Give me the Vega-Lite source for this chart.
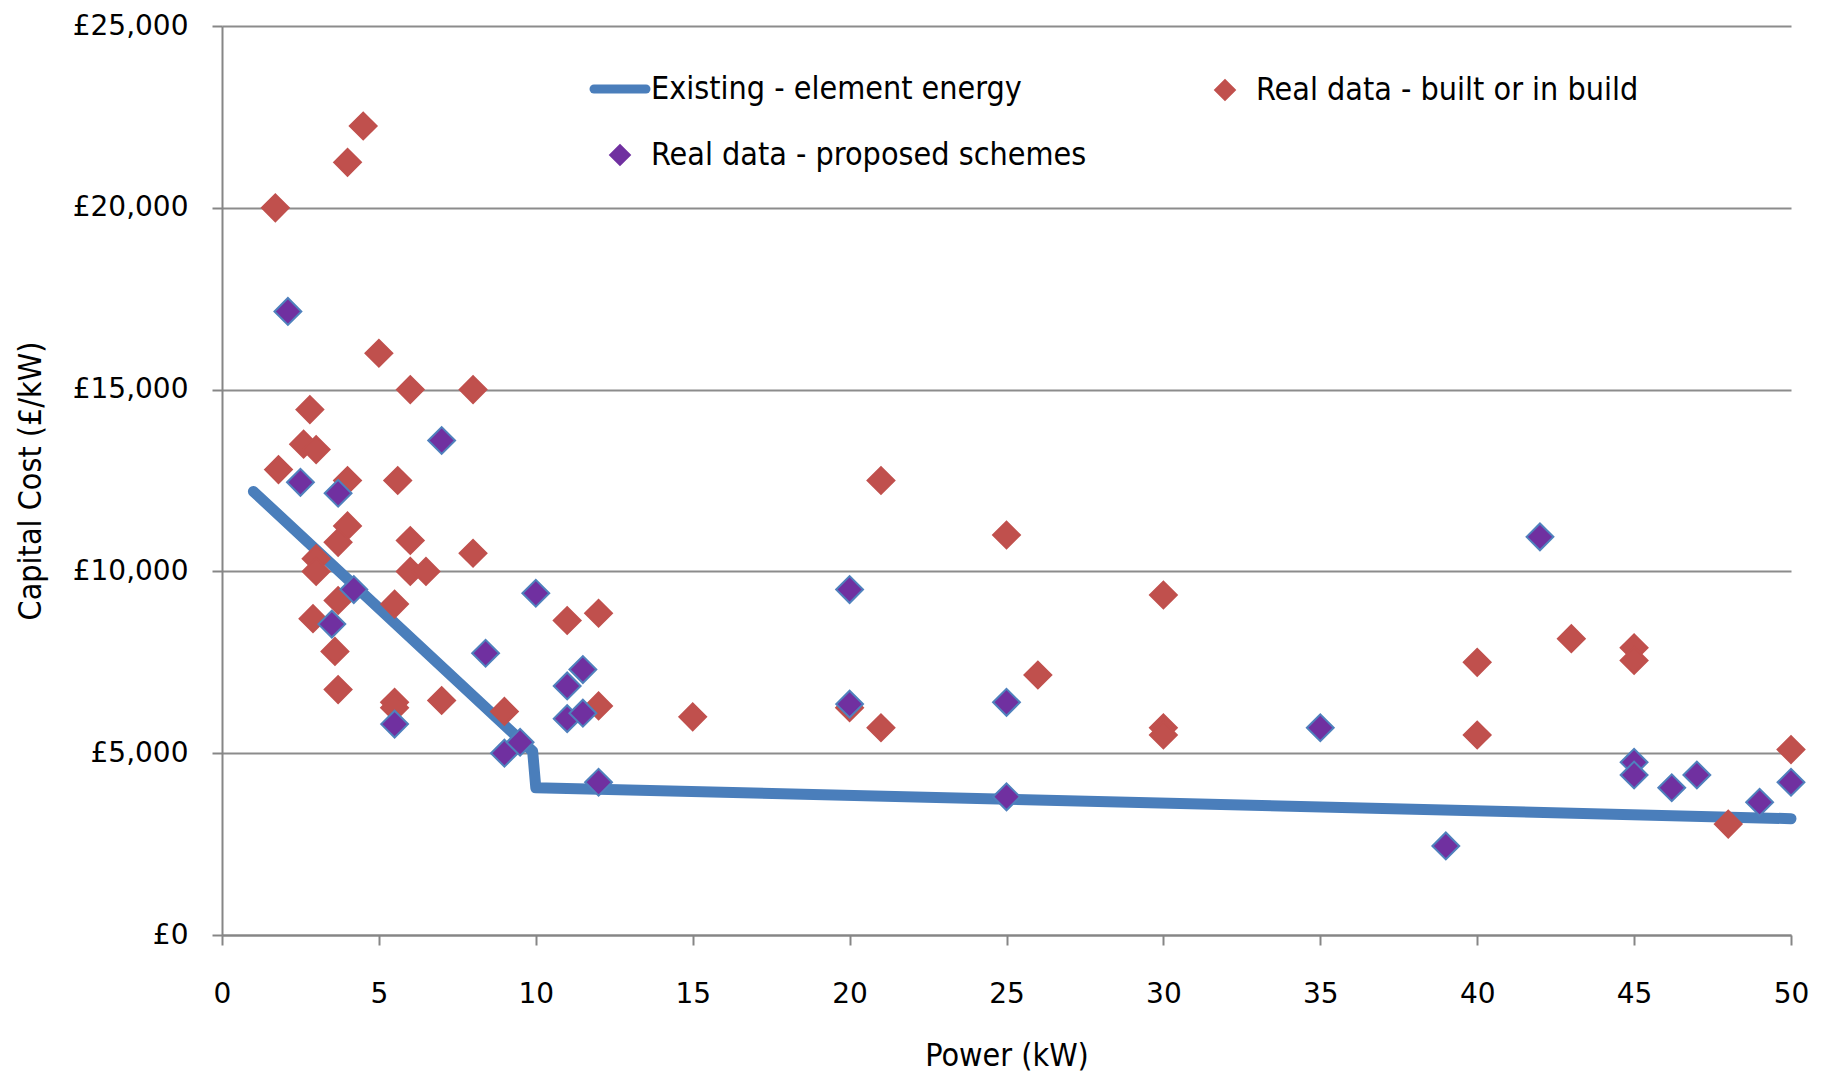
{
  "$schema": "https://vega.github.io/schema/vega-lite/v6.json",
  "width": 1569,
  "height": 909,
  "autosize": {"type": "none"},
  "padding": {"left": 222, "top": 26, "right": 33, "bottom": 142},
  "background": "white",
  "config": {
    "view": {"stroke": null},
    "axis": {
      "domainColor": "#868686", "domainWidth": 2,
      "gridColor": "#8c8c8c", "gridWidth": 2,
      "tickColor": "#868686", "tickWidth": 2, "tickSize": 10,
      "labelFont": "DejaVu Sans", "labelFontSize": 28, "labelColor": "#000000",
      "titleFont": "'DejaVu Sans Condensed', 'Roboto Condensed', 'Liberation Sans Narrow', Roboto, sans-serif", "titleFontSize": 32, "titleFontWeight": "normal", "titleColor": "#000000"
    }
  },
  "datasets": {
    "line": [
      {"power": 1, "cost": 12200, "series": "Existing - element energy"},
      {"power": 9.9, "cost": 5050, "series": "Existing - element energy"},
      {"power": 10, "cost": 4050, "series": "Existing - element energy"},
      {"power": 50, "cost": 3200, "series": "Existing - element energy"}
    ],
    "points": [
      {"power": 1.7, "cost": 20000, "series": "Real data - built or in build"},
      {"power": 4.0, "cost": 21250, "series": "Real data - built or in build"},
      {"power": 4.5, "cost": 22250, "series": "Real data - built or in build"},
      {"power": 1.8, "cost": 12800, "series": "Real data - built or in build"},
      {"power": 2.8, "cost": 14450, "series": "Real data - built or in build"},
      {"power": 2.6, "cost": 13500, "series": "Real data - built or in build"},
      {"power": 3.0, "cost": 13350, "series": "Real data - built or in build"},
      {"power": 4.0, "cost": 12500, "series": "Real data - built or in build"},
      {"power": 4.0, "cost": 11250, "series": "Real data - built or in build"},
      {"power": 3.7, "cost": 10800, "series": "Real data - built or in build"},
      {"power": 3.0, "cost": 10350, "series": "Real data - built or in build"},
      {"power": 3.0, "cost": 10000, "series": "Real data - built or in build"},
      {"power": 2.9, "cost": 8700, "series": "Real data - built or in build"},
      {"power": 3.7, "cost": 9200, "series": "Real data - built or in build"},
      {"power": 3.6, "cost": 7800, "series": "Real data - built or in build"},
      {"power": 3.7, "cost": 6750, "series": "Real data - built or in build"},
      {"power": 5.0, "cost": 16000, "series": "Real data - built or in build"},
      {"power": 6.0, "cost": 15000, "series": "Real data - built or in build"},
      {"power": 5.6, "cost": 12500, "series": "Real data - built or in build"},
      {"power": 6.0, "cost": 10850, "series": "Real data - built or in build"},
      {"power": 6.0, "cost": 10000, "series": "Real data - built or in build"},
      {"power": 6.5, "cost": 10000, "series": "Real data - built or in build"},
      {"power": 5.5, "cost": 9100, "series": "Real data - built or in build"},
      {"power": 5.5, "cost": 6400, "series": "Real data - built or in build"},
      {"power": 5.5, "cost": 6250, "series": "Real data - built or in build"},
      {"power": 7.0, "cost": 6450, "series": "Real data - built or in build"},
      {"power": 8.0, "cost": 15000, "series": "Real data - built or in build"},
      {"power": 8.0, "cost": 10500, "series": "Real data - built or in build"},
      {"power": 9.0, "cost": 6150, "series": "Real data - built or in build"},
      {"power": 11.0, "cost": 8650, "series": "Real data - built or in build"},
      {"power": 12.0, "cost": 8850, "series": "Real data - built or in build"},
      {"power": 12.0, "cost": 6300, "series": "Real data - built or in build"},
      {"power": 15.0, "cost": 6000, "series": "Real data - built or in build"},
      {"power": 21.0, "cost": 12500, "series": "Real data - built or in build"},
      {"power": 20.0, "cost": 6250, "series": "Real data - built or in build"},
      {"power": 21.0, "cost": 5700, "series": "Real data - built or in build"},
      {"power": 25.0, "cost": 11000, "series": "Real data - built or in build"},
      {"power": 26.0, "cost": 7150, "series": "Real data - built or in build"},
      {"power": 30.0, "cost": 9350, "series": "Real data - built or in build"},
      {"power": 30.0, "cost": 5700, "series": "Real data - built or in build"},
      {"power": 30.0, "cost": 5500, "series": "Real data - built or in build"},
      {"power": 40.0, "cost": 7500, "series": "Real data - built or in build"},
      {"power": 40.0, "cost": 5500, "series": "Real data - built or in build"},
      {"power": 43.0, "cost": 8150, "series": "Real data - built or in build"},
      {"power": 45.0, "cost": 7900, "series": "Real data - built or in build"},
      {"power": 45.0, "cost": 7550, "series": "Real data - built or in build"},
      {"power": 48.0, "cost": 3050, "series": "Real data - built or in build"},
      {"power": 50.0, "cost": 5100, "series": "Real data - built or in build"},
      {"power": 2.1, "cost": 17150, "series": "Real data - proposed schemes"},
      {"power": 2.5, "cost": 12450, "series": "Real data - proposed schemes"},
      {"power": 3.7, "cost": 12150, "series": "Real data - proposed schemes"},
      {"power": 7.0, "cost": 13600, "series": "Real data - proposed schemes"},
      {"power": 4.2, "cost": 9500, "series": "Real data - proposed schemes"},
      {"power": 3.5, "cost": 8550, "series": "Real data - proposed schemes"},
      {"power": 5.5, "cost": 5800, "series": "Real data - proposed schemes"},
      {"power": 10.0, "cost": 9400, "series": "Real data - proposed schemes"},
      {"power": 8.4, "cost": 7750, "series": "Real data - proposed schemes"},
      {"power": 11.0, "cost": 6850, "series": "Real data - proposed schemes"},
      {"power": 11.5, "cost": 7300, "series": "Real data - proposed schemes"},
      {"power": 11.0, "cost": 5950, "series": "Real data - proposed schemes"},
      {"power": 11.5, "cost": 6100, "series": "Real data - proposed schemes"},
      {"power": 9.0, "cost": 5000, "series": "Real data - proposed schemes"},
      {"power": 9.5, "cost": 5300, "series": "Real data - proposed schemes"},
      {"power": 12.0, "cost": 4200, "series": "Real data - proposed schemes"},
      {"power": 20.0, "cost": 9500, "series": "Real data - proposed schemes"},
      {"power": 20.0, "cost": 6350, "series": "Real data - proposed schemes"},
      {"power": 25.0, "cost": 6400, "series": "Real data - proposed schemes"},
      {"power": 25.0, "cost": 3800, "series": "Real data - proposed schemes"},
      {"power": 35.0, "cost": 5700, "series": "Real data - proposed schemes"},
      {"power": 42.0, "cost": 10950, "series": "Real data - proposed schemes"},
      {"power": 39.0, "cost": 2450, "series": "Real data - proposed schemes"},
      {"power": 45.0, "cost": 4750, "series": "Real data - proposed schemes"},
      {"power": 45.0, "cost": 4400, "series": "Real data - proposed schemes"},
      {"power": 46.2, "cost": 4050, "series": "Real data - proposed schemes"},
      {"power": 47.0, "cost": 4400, "series": "Real data - proposed schemes"},
      {"power": 49.0, "cost": 3650, "series": "Real data - proposed schemes"},
      {"power": 50.0, "cost": 4200, "series": "Real data - proposed schemes"}
    ]
  },
  "layer": [
    {
      "data": {"name": "line"},
      "mark": {"type": "line", "strokeWidth": 11, "strokeCap": "round", "strokeJoin": "round", "clip": false},
      "encoding": {
        "x": {
          "field": "power", "type": "quantitative",
          "scale": {"domain": [0, 50], "nice": false, "zero": true},
          "axis": {"title": "Power (kW)", "values": [0, 5, 10, 15, 20, 25, 30, 35, 40, 45, 50], "grid": false, "labelPadding": 35, "titlePadding": 32, "labelFlush": false}
        },
        "y": {
          "field": "cost", "type": "quantitative",
          "scale": {"domain": [0, 25000], "nice": false},
          "axis": {"title": "Capital Cost (£/kW)", "values": [0, 5000, 10000, 15000, 20000, 25000], "grid": true, "labelPadding": 24, "titlePadding": 25, "labelExpr": "'£' + format(datum.value, ',')"}
        },
        "color": {
          "field": "series", "type": "nominal",
          "scale": {
            "domain": ["Existing - element energy", "Real data - built or in build", "Real data - proposed schemes"],
            "range": ["#4a7ebb", "#c0504d", "#7030a0"]
          },
          "legend": {
            "title": null,
            "orient": "none",
            "legendX": 382,
            "legendY": 47,
            "direction": "horizontal",
            "columns": 2,
            "columnPadding": 122,
            "rowPadding": 32,
            "labelFont": "'DejaVu Sans Condensed', 'Roboto Condensed', 'Liberation Sans Narrow', Roboto, sans-serif",
            "labelFontSize": 32,
            "labelColor": "#000000",
            "labelOffset": 15,
            "labelLimit": 0,
            "symbolOpacity": 1,
            "encode": {
              "symbols": {
                "update": {
                  "shape": {"signal": "datum.value === 'Existing - element energy' ? 'stroke' : 'diamond'"},
                  "size": {"signal": "datum.value === 'Existing - element energy' ? 2700 : 420"},
                  "strokeWidth": {"signal": "datum.value === 'Existing - element energy' ? 9 : 1.5"},
                  "strokeCap": {"value": "round"},
                  "fill": {"signal": "datum.value === 'Existing - element energy' ? 'transparent' : (datum.value === 'Real data - proposed schemes' ? '#7030a0' : '#c0504d')"},
                  "stroke": {"signal": "datum.value === 'Existing - element energy' ? '#4a7ebb' : (datum.value === 'Real data - proposed schemes' ? '#4f81bd' : '#c0504d')"},
                  "opacity": {"value": 1},
                  "fillOpacity": {"value": 1},
                  "strokeOpacity": {"value": 1}
                }
              }
            }
          }
        }
      }
    },
    {
      "data": {"name": "points"},
      "mark": {"type": "point", "shape": "diamond", "filled": true, "size": 720, "opacity": 1, "strokeWidth": 2},
      "encoding": {
        "x": {"field": "power", "type": "quantitative"},
        "y": {"field": "cost", "type": "quantitative"},
        "color": {"field": "series", "type": "nominal"},
        "stroke": {
          "field": "series", "type": "nominal",
          "scale": {
            "domain": ["Real data - built or in build", "Real data - proposed schemes"],
            "range": ["#c0504d", "#4f81bd"]
          },
          "legend": null
        }
      }
    }
  ]
}
